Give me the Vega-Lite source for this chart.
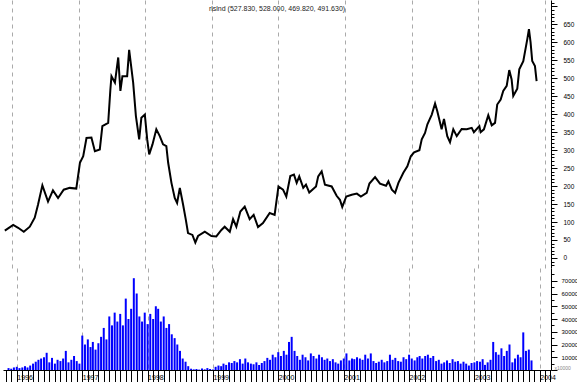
{
  "$schema": "https://vega.github.io/schema/vega-lite/v6.json",
  "background": "white",
  "padding": 0,
  "spacing": 0,
  "config": {"view": {"stroke": null}, "font": "Liberation Sans"},
  "datasets": {
    "price": [
      {"date": "1995-11-23", "close": 76}, {"date": "1996-01-08", "close": 92}, {"date": "1996-02-04", "close": 84}, {"date": "1996-03-06", "close": 73},
      {"date": "1996-04-08", "close": 87}, {"date": "1996-05-05", "close": 112}, {"date": "1996-05-23", "close": 148}, {"date": "1996-06-16", "close": 202},
      {"date": "1996-07-17", "close": 157}, {"date": "1996-08-13", "close": 188}, {"date": "1996-09-10", "close": 167}, {"date": "1996-10-11", "close": 190},
      {"date": "1996-11-13", "close": 195}, {"date": "1996-12-19", "close": 193}, {"date": "1997-01-08", "close": 265}, {"date": "1997-01-26", "close": 283},
      {"date": "1997-02-13", "close": 334}, {"date": "1997-03-12", "close": 335}, {"date": "1997-03-31", "close": 297}, {"date": "1997-04-27", "close": 302},
      {"date": "1997-05-11", "close": 367}, {"date": "1997-06-12", "close": 376}, {"date": "1997-06-24", "close": 469}, {"date": "1997-06-30", "close": 506},
      {"date": "1997-07-19", "close": 488}, {"date": "1997-08-06", "close": 558}, {"date": "1997-08-18", "close": 465}, {"date": "1997-08-29", "close": 506},
      {"date": "1997-09-24", "close": 506}, {"date": "1997-10-05", "close": 579}, {"date": "1997-10-27", "close": 488}, {"date": "1997-11-11", "close": 395},
      {"date": "1997-11-29", "close": 330}, {"date": "1997-12-11", "close": 390}, {"date": "1997-12-30", "close": 399}, {"date": "1998-01-12", "close": 330},
      {"date": "1998-01-23", "close": 288}, {"date": "1998-02-10", "close": 316}, {"date": "1998-03-03", "close": 358}, {"date": "1998-03-22", "close": 339},
      {"date": "1998-04-09", "close": 316}, {"date": "1998-04-27", "close": 311}, {"date": "1998-05-07", "close": 265}, {"date": "1998-05-25", "close": 209},
      {"date": "1998-06-12", "close": 167}, {"date": "1998-06-25", "close": 153}, {"date": "1998-07-10", "close": 195}, {"date": "1998-07-28", "close": 148},
      {"date": "1998-08-12", "close": 106}, {"date": "1998-08-24", "close": 69}, {"date": "1998-09-17", "close": 64}, {"date": "1998-10-03", "close": 43},
      {"date": "1998-10-18", "close": 61}, {"date": "1998-11-24", "close": 73}, {"date": "1998-12-30", "close": 61}, {"date": "1999-01-26", "close": 60},
      {"date": "1999-02-23", "close": 78}, {"date": "1999-03-13", "close": 87}, {"date": "1999-04-10", "close": 73}, {"date": "1999-04-28", "close": 108},
      {"date": "1999-05-16", "close": 87}, {"date": "1999-06-07", "close": 129}, {"date": "1999-07-01", "close": 143}, {"date": "1999-07-28", "close": 108},
      {"date": "1999-08-19", "close": 120}, {"date": "1999-09-12", "close": 86}, {"date": "1999-10-09", "close": 97}, {"date": "1999-11-15", "close": 125},
      {"date": "1999-12-12", "close": 120}, {"date": "2000-01-02", "close": 199}, {"date": "2000-01-27", "close": 190}, {"date": "2000-02-14", "close": 171},
      {"date": "2000-03-07", "close": 228}, {"date": "2000-03-27", "close": 232}, {"date": "2000-04-11", "close": 209}, {"date": "2000-04-25", "close": 227},
      {"date": "2000-05-17", "close": 195}, {"date": "2000-06-01", "close": 204}, {"date": "2000-06-19", "close": 182}, {"date": "2000-07-26", "close": 199},
      {"date": "2000-08-07", "close": 227}, {"date": "2000-08-26", "close": 241}, {"date": "2000-09-13", "close": 204}, {"date": "2000-10-20", "close": 199},
      {"date": "2000-11-16", "close": 173}, {"date": "2000-12-04", "close": 162}, {"date": "2000-12-17", "close": 142}, {"date": "2001-01-08", "close": 171},
      {"date": "2001-02-07", "close": 176}, {"date": "2001-03-07", "close": 179}, {"date": "2001-03-29", "close": 171}, {"date": "2001-04-30", "close": 181},
      {"date": "2001-05-15", "close": 207}, {"date": "2001-06-15", "close": 225}, {"date": "2001-07-12", "close": 207}, {"date": "2001-08-14", "close": 201},
      {"date": "2001-08-27", "close": 213}, {"date": "2001-09-15", "close": 190}, {"date": "2001-10-03", "close": 181}, {"date": "2001-10-21", "close": 209},
      {"date": "2001-11-17", "close": 237}, {"date": "2001-12-09", "close": 255}, {"date": "2001-12-28", "close": 283}, {"date": "2002-01-15", "close": 294},
      {"date": "2002-02-13", "close": 300}, {"date": "2002-02-26", "close": 330}, {"date": "2002-03-16", "close": 348}, {"date": "2002-03-29", "close": 372},
      {"date": "2002-04-22", "close": 399}, {"date": "2002-05-10", "close": 430}, {"date": "2002-05-22", "close": 409}, {"date": "2002-06-15", "close": 358},
      {"date": "2002-06-28", "close": 387}, {"date": "2002-07-16", "close": 339}, {"date": "2002-07-31", "close": 322}, {"date": "2002-08-18", "close": 358},
      {"date": "2002-09-06", "close": 339}, {"date": "2002-10-03", "close": 359}, {"date": "2002-10-31", "close": 358}, {"date": "2002-11-27", "close": 362},
      {"date": "2002-12-09", "close": 350}, {"date": "2003-01-08", "close": 367}, {"date": "2003-01-15", "close": 350}, {"date": "2003-02-02", "close": 358},
      {"date": "2003-02-26", "close": 397}, {"date": "2003-03-17", "close": 369}, {"date": "2003-04-04", "close": 376}, {"date": "2003-04-16", "close": 427},
      {"date": "2003-05-05", "close": 441}, {"date": "2003-05-19", "close": 465}, {"date": "2003-06-07", "close": 479}, {"date": "2003-06-21", "close": 523},
      {"date": "2003-07-04", "close": 497}, {"date": "2003-07-13", "close": 451}, {"date": "2003-08-04", "close": 471}, {"date": "2003-08-15", "close": 525},
      {"date": "2003-09-06", "close": 548}, {"date": "2003-09-28", "close": 609}, {"date": "2003-10-07", "close": 637}, {"date": "2003-10-16", "close": 600},
      {"date": "2003-10-25", "close": 548}, {"date": "2003-11-09", "close": 534}, {"date": "2003-11-18", "close": 492}
    ],
    "volume": [
      {"date": "1995-11-16", "vol": 1500}, {"date": "1995-12-01", "vol": 1000}, {"date": "1995-12-16", "vol": 2000},
      {"date": "1996-01-01", "vol": 2500}, {"date": "1996-01-16", "vol": 1500}, {"date": "1996-02-01", "vol": 2000}, {"date": "1996-02-16", "vol": 3000},
      {"date": "1996-03-01", "vol": 2000}, {"date": "1996-03-16", "vol": 3500}, {"date": "1996-04-01", "vol": 5000}, {"date": "1996-04-16", "vol": 6500},
      {"date": "1996-05-01", "vol": 8000}, {"date": "1996-05-16", "vol": 9000}, {"date": "1996-06-01", "vol": 10000}, {"date": "1996-06-16", "vol": 13500},
      {"date": "1996-07-01", "vol": 6000}, {"date": "1996-07-16", "vol": 9500}, {"date": "1996-08-01", "vol": 5000}, {"date": "1996-08-16", "vol": 8000},
      {"date": "1996-09-01", "vol": 7000}, {"date": "1996-09-16", "vol": 9000}, {"date": "1996-10-01", "vol": 15000}, {"date": "1996-10-16", "vol": 6000},
      {"date": "1996-11-01", "vol": 8000}, {"date": "1996-11-16", "vol": 11000}, {"date": "1996-12-01", "vol": 7000}, {"date": "1996-12-16", "vol": 5000},
      {"date": "1997-01-01", "vol": 27000}, {"date": "1997-01-16", "vol": 20000}, {"date": "1997-02-01", "vol": 24000}, {"date": "1997-02-16", "vol": 18000},
      {"date": "1997-03-01", "vol": 22000}, {"date": "1997-03-16", "vol": 16000}, {"date": "1997-04-01", "vol": 21000}, {"date": "1997-04-16", "vol": 26000},
      {"date": "1997-05-01", "vol": 33000}, {"date": "1997-05-16", "vol": 24000}, {"date": "1997-06-01", "vol": 42000}, {"date": "1997-06-16", "vol": 35000},
      {"date": "1997-07-01", "vol": 45000}, {"date": "1997-07-16", "vol": 38000}, {"date": "1997-08-01", "vol": 44000}, {"date": "1997-08-16", "vol": 35000},
      {"date": "1997-09-01", "vol": 56000}, {"date": "1997-09-16", "vol": 40000}, {"date": "1997-10-01", "vol": 48000}, {"date": "1997-10-16", "vol": 72000},
      {"date": "1997-11-01", "vol": 60000}, {"date": "1997-11-16", "vol": 42000}, {"date": "1997-12-01", "vol": 38000}, {"date": "1997-12-16", "vol": 45000},
      {"date": "1998-01-01", "vol": 36000}, {"date": "1998-01-16", "vol": 44000}, {"date": "1998-02-01", "vol": 40000}, {"date": "1998-02-16", "vol": 50000},
      {"date": "1998-03-01", "vol": 48000}, {"date": "1998-03-16", "vol": 38000}, {"date": "1998-04-01", "vol": 42000}, {"date": "1998-04-16", "vol": 33000},
      {"date": "1998-05-01", "vol": 36000}, {"date": "1998-05-16", "vol": 28000}, {"date": "1998-06-01", "vol": 25000}, {"date": "1998-06-16", "vol": 20000},
      {"date": "1998-07-01", "vol": 15000}, {"date": "1998-07-16", "vol": 9000}, {"date": "1998-08-01", "vol": 6500}, {"date": "1998-08-16", "vol": 3000},
      {"date": "1998-09-01", "vol": 1000}, {"date": "1998-09-16", "vol": 500}, {"date": "1998-10-01", "vol": 800}, {"date": "1998-10-16", "vol": 300},
      {"date": "1998-11-01", "vol": 1200}, {"date": "1998-11-16", "vol": 500}, {"date": "1998-12-01", "vol": 1500}, {"date": "1998-12-16", "vol": 800},
      {"date": "1999-01-01", "vol": 400}, {"date": "1999-01-16", "vol": 2500}, {"date": "1999-02-01", "vol": 3500}, {"date": "1999-02-16", "vol": 3000},
      {"date": "1999-03-01", "vol": 5000}, {"date": "1999-03-16", "vol": 4000}, {"date": "1999-04-01", "vol": 6000}, {"date": "1999-04-16", "vol": 5500},
      {"date": "1999-05-01", "vol": 7000}, {"date": "1999-05-16", "vol": 6000}, {"date": "1999-06-01", "vol": 8500}, {"date": "1999-06-16", "vol": 5000},
      {"date": "1999-07-01", "vol": 9000}, {"date": "1999-07-16", "vol": 6000}, {"date": "1999-08-01", "vol": 5000}, {"date": "1999-08-16", "vol": 4500},
      {"date": "1999-09-01", "vol": 6000}, {"date": "1999-09-16", "vol": 4000}, {"date": "1999-10-01", "vol": 5500}, {"date": "1999-10-16", "vol": 7000},
      {"date": "1999-11-01", "vol": 9500}, {"date": "1999-11-16", "vol": 8000}, {"date": "1999-12-01", "vol": 12000}, {"date": "1999-12-16", "vol": 10000},
      {"date": "2000-01-01", "vol": 14000}, {"date": "2000-01-16", "vol": 11000}, {"date": "2000-02-01", "vol": 15000}, {"date": "2000-02-16", "vol": 12000},
      {"date": "2000-03-01", "vol": 22000}, {"date": "2000-03-16", "vol": 26000}, {"date": "2000-04-01", "vol": 15000}, {"date": "2000-04-16", "vol": 11000},
      {"date": "2000-05-01", "vol": 8000}, {"date": "2000-05-16", "vol": 12000}, {"date": "2000-06-01", "vol": 10000}, {"date": "2000-06-16", "vol": 7500},
      {"date": "2000-07-01", "vol": 13000}, {"date": "2000-07-16", "vol": 11000}, {"date": "2000-08-01", "vol": 9000}, {"date": "2000-08-16", "vol": 12000},
      {"date": "2000-09-01", "vol": 10000}, {"date": "2000-09-16", "vol": 8000}, {"date": "2000-10-01", "vol": 9000}, {"date": "2000-10-16", "vol": 7000},
      {"date": "2000-11-01", "vol": 8500}, {"date": "2000-11-16", "vol": 6000}, {"date": "2000-12-01", "vol": 5000}, {"date": "2000-12-16", "vol": 7500},
      {"date": "2001-01-01", "vol": 9000}, {"date": "2001-01-16", "vol": 13000}, {"date": "2001-02-01", "vol": 7500}, {"date": "2001-02-16", "vol": 9000},
      {"date": "2001-03-01", "vol": 8500}, {"date": "2001-03-16", "vol": 10000}, {"date": "2001-04-01", "vol": 9000}, {"date": "2001-04-16", "vol": 8000},
      {"date": "2001-05-01", "vol": 12000}, {"date": "2001-05-16", "vol": 9000}, {"date": "2001-06-01", "vol": 13000}, {"date": "2001-06-16", "vol": 7000},
      {"date": "2001-07-01", "vol": 5500}, {"date": "2001-07-16", "vol": 6500}, {"date": "2001-08-01", "vol": 8000}, {"date": "2001-08-16", "vol": 6000},
      {"date": "2001-09-01", "vol": 7000}, {"date": "2001-09-16", "vol": 12000}, {"date": "2001-10-01", "vol": 8000}, {"date": "2001-10-16", "vol": 9500},
      {"date": "2001-11-01", "vol": 7000}, {"date": "2001-11-16", "vol": 6500}, {"date": "2001-12-01", "vol": 10000}, {"date": "2001-12-16", "vol": 8500},
      {"date": "2002-01-01", "vol": 12000}, {"date": "2002-01-16", "vol": 9000}, {"date": "2002-02-01", "vol": 7500}, {"date": "2002-02-16", "vol": 10000},
      {"date": "2002-03-01", "vol": 11000}, {"date": "2002-03-16", "vol": 9000}, {"date": "2002-04-01", "vol": 11000}, {"date": "2002-04-16", "vol": 12000},
      {"date": "2002-05-01", "vol": 9500}, {"date": "2002-05-16", "vol": 11000}, {"date": "2002-06-01", "vol": 7000}, {"date": "2002-06-16", "vol": 8000},
      {"date": "2002-07-01", "vol": 5000}, {"date": "2002-07-16", "vol": 6000}, {"date": "2002-08-01", "vol": 7500}, {"date": "2002-08-16", "vol": 5500},
      {"date": "2002-09-01", "vol": 8500}, {"date": "2002-09-16", "vol": 6500}, {"date": "2002-10-01", "vol": 7000}, {"date": "2002-10-16", "vol": 5000},
      {"date": "2002-11-01", "vol": 6500}, {"date": "2002-11-16", "vol": 5000}, {"date": "2002-12-01", "vol": 3500}, {"date": "2002-12-16", "vol": 5500},
      {"date": "2003-01-01", "vol": 6000}, {"date": "2003-01-16", "vol": 7000}, {"date": "2003-02-01", "vol": 6500}, {"date": "2003-02-16", "vol": 8500},
      {"date": "2003-03-01", "vol": 4000}, {"date": "2003-03-16", "vol": 6000}, {"date": "2003-04-01", "vol": 8000}, {"date": "2003-04-16", "vol": 22000},
      {"date": "2003-05-01", "vol": 14000}, {"date": "2003-05-16", "vol": 12000}, {"date": "2003-06-01", "vol": 17000}, {"date": "2003-06-16", "vol": 11000},
      {"date": "2003-07-01", "vol": 15000}, {"date": "2003-07-16", "vol": 20000}, {"date": "2003-08-01", "vol": 6000}, {"date": "2003-08-16", "vol": 9000},
      {"date": "2003-09-01", "vol": 12000}, {"date": "2003-09-16", "vol": 10000}, {"date": "2003-10-01", "vol": 29500}, {"date": "2003-10-16", "vol": 15000},
      {"date": "2003-11-01", "vol": 16000}, {"date": "2003-11-16", "vol": 7500}
    ]
  },
  "vconcat": [
    {
      "width": 548,
      "height": 268,
      "title": {"text": "rlslnd (527.830, 528.000, 469.820, 491.630)", "offset": -12, "fontSize": 7, "fontWeight": "normal", "color": "#222222", "font": "Liberation Sans", "anchor": "middle"},
      "data": {"name": "price"},
      "mark": {"type": "line", "color": "black", "strokeWidth": 2, "strokeJoin": "miter"},
      "encoding": {
        "x": {
          "field": "date", "type": "temporal",
          "scale": {"domain": ["1995-11-13", "2004-02-05"]},
          "axis": {"title": null, "domain": false, "ticks": false, "labels": false, "grid": true, "gridDash": [4, 4], "gridColor": "#aaaaaa", "gridWidth": 1, "tickCount": {"interval": "year", "step": 1}}
        },
        "y": {
          "field": "close", "type": "quantitative",
          "scale": {"domain": [-28, 718], "nice": false, "zero": false},
          "axis": {
            "orient": "right", "title": null, "grid": false,
            "values": [-20,-10,0,10,20,30,40,50,60,70,80,90,100,110,120,130,140,150,160,170,180,190,200,210,220,230,240,250,260,270,280,290,300,310,320,330,340,350,360,370,380,390,400,410,420,430,440,450,460,470,480,490,500,510,520,530,540,550,560,570,580,590,600,610,620,630,640,650,660,670,680,690,700,710],
            "labelExpr": "datum.value >= 0 && datum.value <= 650 && datum.value % 50 == 0 ? datum.label : ''",
            "labelFontSize": {"condition": {"test": "datum.value >= 0 && datum.value <= 650 && datum.value % 50 == 0", "value": 6.5}, "value": 0},
            "tickSize": {"condition": {"test": "datum.value % 50 == 0", "value": 6}, "value": 3},
            "domainColor": "black", "tickColor": "black", "labelColor": "black",
            "labelFont": "Liberation Sans", "labelPadding": 6, "labelOverlap": false, "labelFlush": false, "labelBound": false
          }
        }
      }
    },
    {
      "width": 548,
      "height": 102,
      "data": {"name": "volume"},
      "mark": {"type": "bar", "color": "#0000ff", "width": 2},
      "encoding": {
        "x": {
          "field": "date", "type": "temporal",
          "scale": {"domain": ["1995-11-13", "2004-02-05"]},
          "axis": {
            "title": null, "tickCount": {"interval": "month", "step": 1},
            "tickSize": 12, "tickColor": "black", "domainColor": "black",
            "grid": true, "gridDash": [4, 4], "gridColor": "#aaaaaa",
            "gridOpacity": {"condition": {"test": "month(datum.value) == 0", "value": 1}, "value": 0},
            "labelExpr": "month(datum.value) == 0 ? timeFormat(datum.value, '%Y') : ''",
            "labelFontSize": {"condition": {"test": "month(datum.value) == 0", "value": 7}, "value": 0},
            "labelAlign": "left", "labelBaseline": "top", "labelPadding": -9, "labelOffset": 0,
            "labelFont": "Liberation Sans", "labelColor": "black",
            "labelOverlap": false, "labelFlush": false, "labelBound": false
          }
        },
        "y": {
          "field": "vol", "type": "quantitative",
          "scale": {"domain": [0, 80000], "nice": false},
          "axis": {
            "orient": "right", "grid": false, "format": "d",
            "values": [0,5000,10000,15000,20000,25000,30000,35000,40000,45000,50000,55000,60000,65000,70000,75000],
            "labelExpr": "datum.value >= 10000 && datum.value <= 70000 && datum.value % 10000 == 0 ? datum.label : ''",
            "labelFontSize": {"condition": {"test": "datum.value >= 10000 && datum.value % 10000 == 0", "value": 6}, "value": 0},
            "tickSize": {"condition": {"test": "datum.value % 10000 == 0", "value": 6}, "value": 3},
            "domainColor": "black", "tickColor": "black", "labelColor": "black",
            "labelFont": "Liberation Sans", "labelPadding": 4, "labelOverlap": false, "labelFlush": false, "labelBound": false,
            "title": "x10000", "titleAngle": 0, "titleFontSize": 5, "titleFontWeight": "normal", "titleColor": "#888888",
            "titleX": 3, "titleY": 102, "titleAlign": "left", "titleBaseline": "bottom"
          }
        }
      }
    }
  ]
}
